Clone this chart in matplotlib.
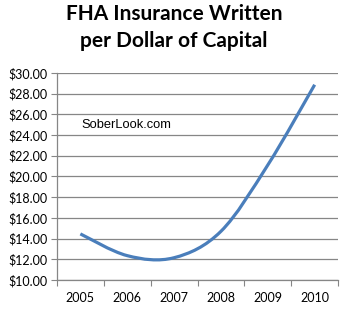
import numpy as np
import matplotlib
matplotlib.use("Agg")
import matplotlib.pyplot as plt
from matplotlib.path import Path
from matplotlib.patches import PathPatch

years = ["2005", "2006", "2007", "2008", "2009", "2010"]
values = [14.45, 12.35, 12.15, 14.7, 21.1, 28.85]
yticks = [10, 12, 14, 16, 18, 20, 22, 24, 26, 28, 30]

fig = plt.figure(figsize=(3.45, 3.12), dpi=100)
ax = fig.add_axes([0.165, 0.1026, 0.815, 0.664])

# Excel-style smoothed line (Bezier through points)
xs = np.arange(len(values), dtype=float)
ys = np.array(values, dtype=float)
verts = [(xs[0], ys[0])]
codes = [Path.MOVETO]
n = len(xs)
for i in range(n - 1):
    p0 = (xs[max(i - 1, 0)], ys[max(i - 1, 0)])
    p1 = (xs[i], ys[i])
    p2 = (xs[i + 1], ys[i + 1])
    p3 = (xs[min(i + 2, n - 1)], ys[min(i + 2, n - 1)])
    c1 = (p1[0] + (p2[0] - p0[0]) / 6, p1[1] + (p2[1] - p0[1]) / 6)
    c2 = (p2[0] - (p3[0] - p1[0]) / 6, p2[1] - (p3[1] - p1[1]) / 6)
    verts += [c1, c2, p2]
    codes += [Path.CURVE4] * 3
path = Path(verts, codes)
ax.add_patch(PathPatch(path, fill=False, edgecolor="#4a7ebb", lw=2.3,
                       capstyle="butt", zorder=3))

ax.set_xlim(-0.5, len(years) - 0.5)
ax.set_ylim(10, 30)
ax.set_yticks(yticks)
ax.set_yticklabels([f"${v:.2f}" for v in yticks])
ax.set_xticks(xs)
ax.set_xticklabels(years)
ax.set_xticks(np.arange(-0.5, len(years), 1.0), minor=True)
ax.tick_params(axis="x", which="major", length=0, pad=9, labelsize=9)
ax.tick_params(axis="x", which="minor", length=4, color="#868686", width=0.8)
ax.tick_params(axis="y", length=4, color="#868686", width=0.8, labelsize=9, pad=3)
ax.grid(axis="y", color="#868686", lw=0.9)
ax.set_axisbelow(True)
for s in ["top", "right"]:
    ax.spines[s].set_visible(False)
for s in ["left", "bottom"]:
    ax.spines[s].set_color("#868686")
    ax.spines[s].set_linewidth(0.9)

for lab in ax.get_xticklabels() + ax.get_yticklabels():
    lab.set_family(["Lato", "DejaVu Sans"])

fig.text(0.505, 0.955, "FHA Insurance Written", ha="center", va="center",
         fontsize=15, fontweight="bold", family="Lato")
fig.text(0.505, 0.868, "per Dollar of Capital", ha="center", va="center",
         fontsize=15, fontweight="bold", family="Lato")
ax.text(0.03, 25.0, "SoberLook.com", fontsize=9.3, family="Liberation Sans",
        va="center")

fig.savefig("out.png", dpi=100)
